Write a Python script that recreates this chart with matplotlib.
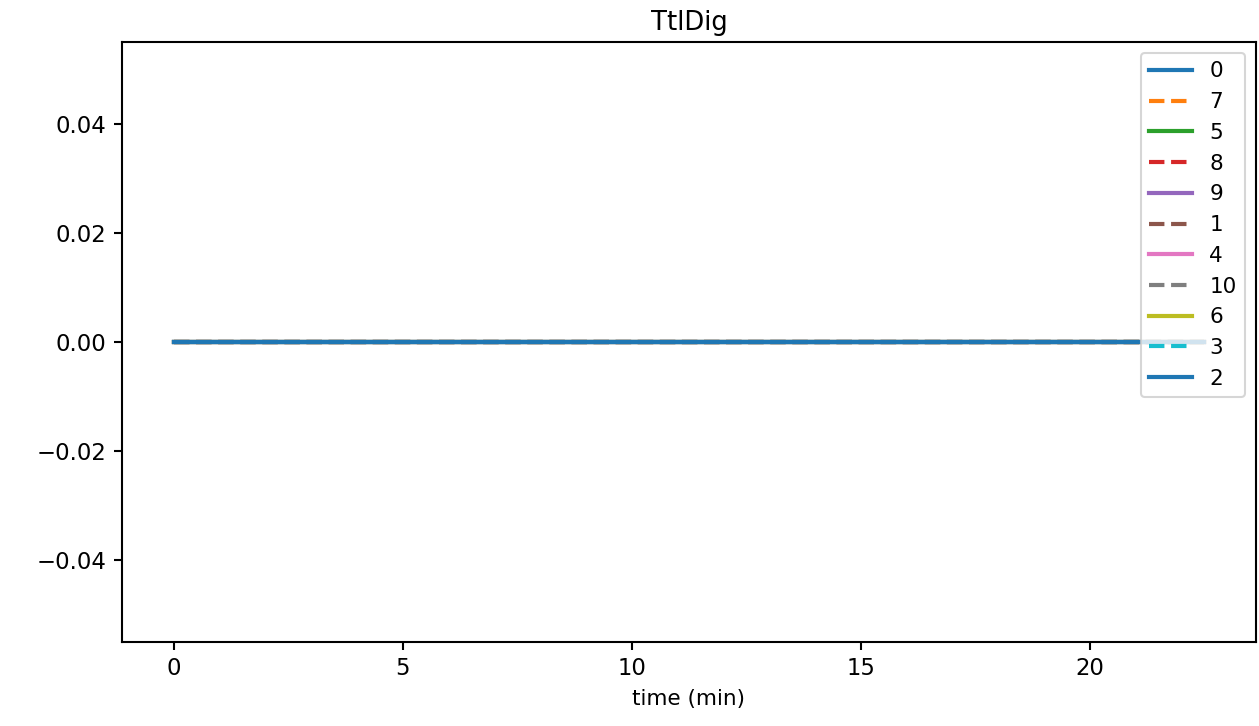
import matplotlib
matplotlib.use("Agg")
import matplotlib.pyplot as plt
import numpy as np

# time axis (minutes) and channel values -- every channel stays flat at zero
time_min = np.array([0.0, 22.5])
channels = ["0", "7", "5", "8", "9", "1", "4", "10", "6", "3", "2"]
ttl_values = [
    [0.0, 0.0],  # 0
    [0.0, 0.0],  # 7
    [0.0, 0.0],  # 5
    [0.0, 0.0],  # 8
    [0.0, 0.0],  # 9
    [0.0, 0.0],  # 1
    [0.0, 0.0],  # 4
    [0.0, 0.0],  # 10
    [0.0, 0.0],  # 6
    [0.0, 0.0],  # 3
    [0.0, 0.0],  # 2
]

DPI = 150
fig, ax = plt.subplots(figsize=(1259 / DPI, 726 / DPI), dpi=DPI)
fig.subplots_adjust(left=0.0969, right=0.9976, top=0.942, bottom=0.116)

for i, (name, vals) in enumerate(zip(channels, ttl_values)):
    ls = "-" if i % 2 == 0 else "--"
    ax.plot(time_min, vals, ls, lw=2, label=name)

ax.set_title("TtlDig", fontsize=12.4)
ax.set_xlabel("time (min)", fontsize=10.3)
ax.tick_params(labelsize=10.9, width=1.0, length=4)
for s in ax.spines.values():
    s.set_linewidth(1.0)
ax.legend(loc="upper right", fontsize=10.3)

fig.savefig("out.png", dpi=DPI)
